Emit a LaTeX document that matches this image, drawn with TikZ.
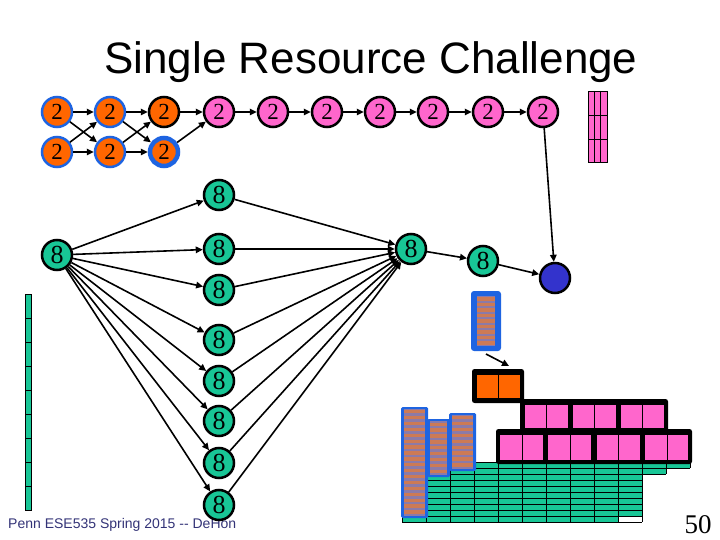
\documentclass[tikz,border=0pt]{standalone}
\usepackage{fontspec}
\setmainfont{Liberation Serif}
\newfontfamily\arialf{Liberation Sans}
\usetikzlibrary{arrows.meta}
\definecolor{orng}{RGB}{255,102,0}
\definecolor{pnk}{RGB}{255,102,204}
\definecolor{grn}{RGB}{24,198,150}
\definecolor{blu}{RGB}{30,100,225}
\definecolor{circ}{RGB}{51,51,204}
\definecolor{strp}{RGB}{205,122,85}
\definecolor{gapc}{RGB}{140,122,168}
\definecolor{foot}{RGB}{51,51,119}
\begin{document}
\begin{tikzpicture}[x=1pt,y=-1pt,
  nd/.style={circle, minimum size=30pt, inner sep=0pt, line width=2.5pt, font=\fontsize{23}{23}\selectfont},
  ob/.style={nd, fill=orng, draw=blu},
  ok/.style={nd, fill=orng, draw=black},
  pk/.style={nd, fill=pnk, draw=black},
  gn/.style={nd, fill=grn, draw=black, font=\fontsize{26}{26}\selectfont},
  bc/.style={nd, fill=circ, draw=black},
  edge/.style={line width=1.6pt, -{Triangle[length=7pt,width=6.5pt]}},
  thin/.style={line width=0.7pt},
  blk/.style={fill=black, rounded corners=2.5pt}]
\useasboundingbox (0,0) rectangle (720,540);

% title and footer
\node[font=\arialf\fontsize{44}{44}\selectfont, anchor=base] (title) at (371,74) {Single Resource Challenge};
\node[font=\arialf\fontsize{14}{14}\selectfont, text=foot, anchor=base west, inner sep=0pt] (footer) at (8,528) {Penn ESE535 Spring 2015 -- DeHon};
\node[font=\fontsize{27}{27}\selectfont, anchor=base, inner sep=0pt] (pnum) at (698,533) {50};

% pink bar top right
\fill[pnk] (588,91) rectangle (607,162);
\draw[thin] (588,91) rectangle (607,162);
\foreach \cx in {594.3,600.7} \draw[thin] (\cx,91) -- (\cx,162);
\foreach \ry in {115,139} \draw[thin] (588,\ry) -- (607,\ry);

% green bar left
\fill[grn] (25,294) rectangle (31,510);
\draw[thin] (25,294) rectangle (31,510);
\foreach \i in {1,...,8} \draw[thin] (25,294+24*\i) -- (31,294+24*\i);

% 2-nodes
\node[ob] (a1) at (57,112) {2};
\node[ob] (a2) at (110,112) {2};
\node[ok] (a3) at (164,112) {2};
\foreach \x/\n in {219/4,273/5,327/6,380/7,433/8,488/9,543/10}
  \node[pk] (a\n) at (\x,112) {2};
\node[ob] (b1) at (57,152) {2};
\node[ob] (b2) at (110,152) {2};
\node[ob, line width=4.5pt, minimum size=28pt] (b3) at (164,152) {2};

% 8-nodes
\node[gn] (s) at (57,255) {8};
\foreach \y [count=\k] in {195,249,290,340,381,421,463,505}
  \node[gn] (c\k) at (219,\y) {8};
\node[gn] (t) at (411,249) {8};
\node[gn] (u) at (483,261) {8};
\node[bc] (bl) at (555,278) {};

% edges of the 2-graph
\draw[edge] (a1) -- (a2);
\draw[edge] (a1) -- (b2);
\draw[edge] (b1) -- (a2);
\draw[edge] (b1) -- (b2);
\draw[edge] (a2) -- (a3);
\draw[edge] (a2) -- (b3);
\draw[edge] (b2) -- (a3);
\draw[edge] (b2) -- (b3);
\draw[edge] (a3) -- (a4);
\draw[edge] (b3) -- (a4);
\foreach \i [evaluate=\i as \j using int(\i+1)] in {4,...,9}
  \draw[edge] (a\i) -- (a\j);
\draw[edge] (a10) -- (bl);

% edges of the 8-graph
\foreach \k in {1,...,8} {
  \draw[edge] (s) -- (c\k);
  \draw[edge] (c\k) -- (t);
}
\draw[edge] (t) -- (u);
\draw[edge] (u) -- (bl);

% small register
\fill[blu, rounded corners=3pt] (471,291) rectangle (501,351);
\fill[gapc] (477,296) rectangle (495,346);
\foreach \i in {0,...,8} \fill[strp] (477,297+5.5*\i) rectangle (495,300.5+5.5*\i);
\coordinate (rg) at (486,354);
\coordinate (ob) at (509,366);
\draw[line width=1.6pt, -{Triangle[length=7pt,width=6.5pt]}] (rg) -- (ob);

% green grid
\fill[grn] (402,462) rectangle (642,522);
\fill[grn] (642,462) rectangle (666,474);
\fill[grn] (666,462) rectangle (690,468);
\fill[white] (618,516) rectangle (642,522);
\foreach \r in {0,...,10} \draw[thin] (402,462+6*\r) -- (642,462+6*\r);
\foreach \c in {0,...,10} \draw[thin] (402+24*\c,462) -- (402+24*\c,522);
\draw[thin] (642,462) -- (690,462);
\draw[thin] (642,468) -- (690,468);
\draw[thin] (642,474) -- (666,474);
\draw[thin] (666,462) -- (666,474);
\draw[thin] (690,462) -- (690,468);

% register stacks
\fill[blu, rounded corners=1.5pt] (427,419) rectangle (450,477);
\fill[gapc] (430,421) rectangle (447,474.5);
\foreach \i in {0,...,8} \fill[strp] (430,422.5+5.9*\i) rectangle (447,425.8+5.9*\i);
\fill[blu, rounded corners=1.5pt] (401,407) rectangle (428,518);
\fill[gapc] (404,409) rectangle (425,516);
\foreach \i in {0,...,17} \fill[strp] (404,410+5.9*\i) rectangle (425,413.3+5.9*\i);
\fill[blu, rounded corners=1.5pt] (449,413) rectangle (476,471);
\fill[gapc] (452,415) rectangle (473,469);
\foreach \i in {0,...,8} \fill[strp] (452,416+5.9*\i) rectangle (473,419.3+5.9*\i);

% orange block
\fill[blk] (472,369) rectangle (524,403);
\fill[orng] (477,375) rectangle (519.5,398);
\draw[thin] (498.3,375) -- (498.3,398);

% pink rows
\fill[blk] (520,399) rectangle (668,432);
\foreach \g in {0,1,2} {
  \fill[pnk] (525+48*\g,405) rectangle (568+48*\g,428);
  \draw[thin] (546+48*\g,405) -- (546+48*\g,428);
}
\fill[blk] (496,429) rectangle (692,464);
\foreach \g in {0,1,2,3} {
  \fill[pnk] (500+48.3*\g,435) rectangle (543+48.3*\g,460);
  \draw[thin] (522+48.3*\g,435) -- (522+48.3*\g,460);
}
\end{tikzpicture}
\end{document}
